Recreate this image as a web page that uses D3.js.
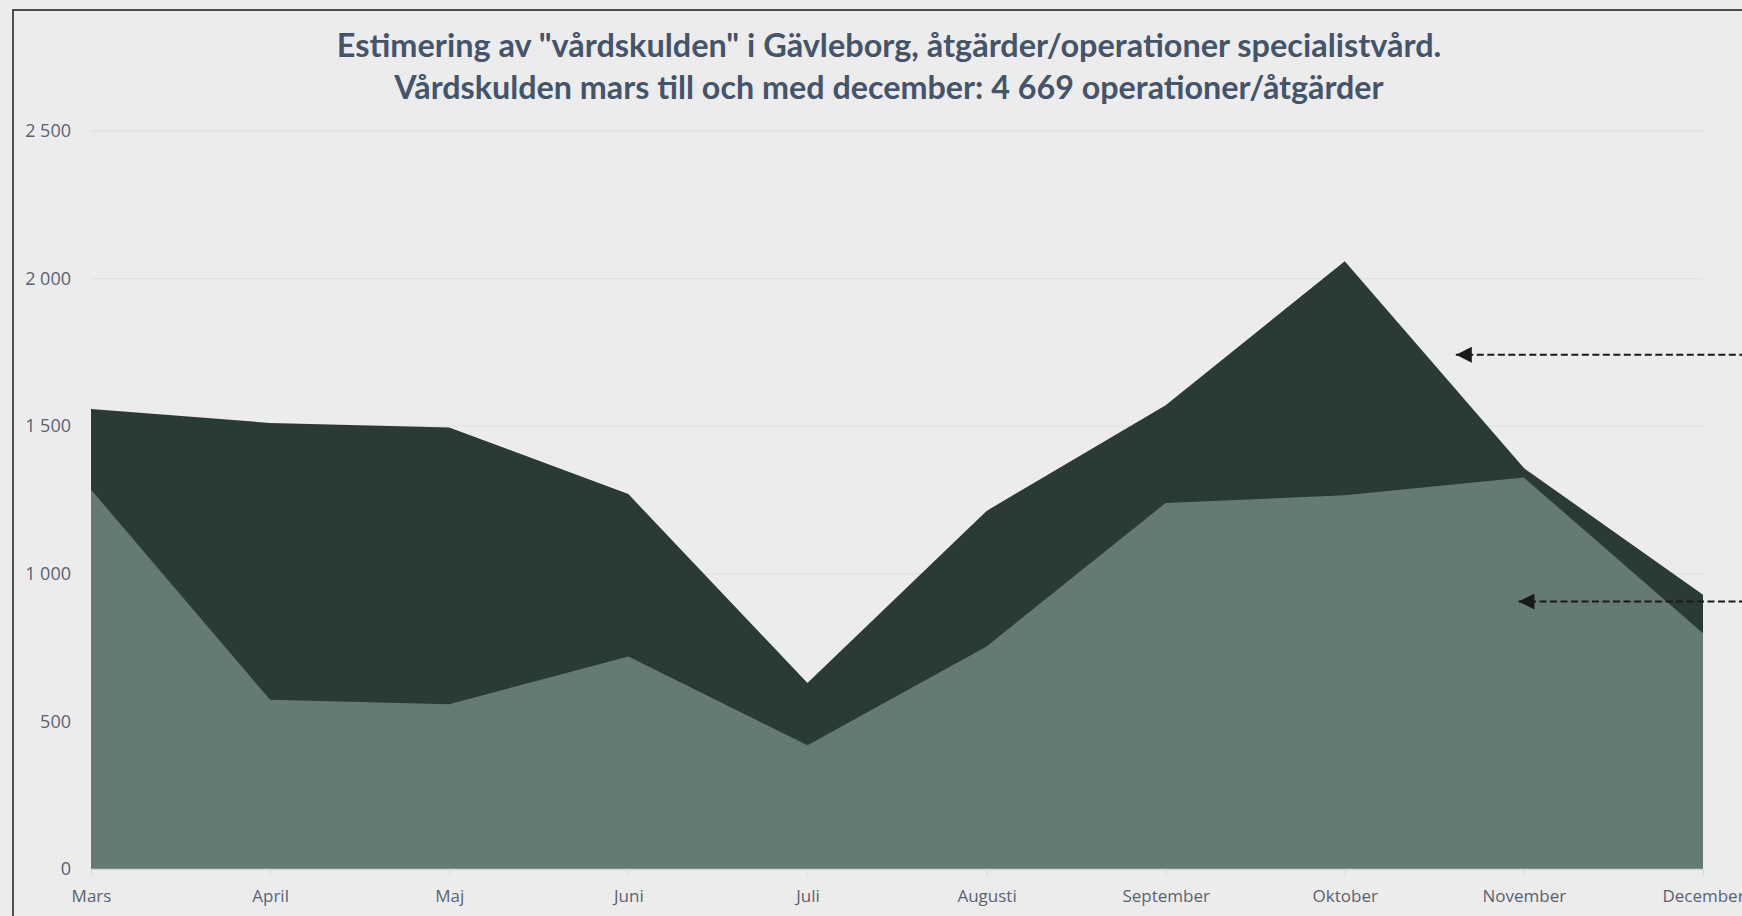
<!DOCTYPE html>
<html>
<head>
<meta charset="utf-8">
<script src="https://cdn.jsdelivr.net/npm/d3@7"></script>
<style>
    html, body { margin: 0; padding: 0; background: #ececec; overflow: hidden; }
    svg { display: block; }
</style>
</head>
<body>
<div id="chart"></div>
<script>
// months on the x axis
let months = ['Mars', 'April', 'Maj', 'Juni', 'Juli', 'Augusti', 'September', 'Oktober', 'November', 'December'];
// previous level (dark area) and current level (light area)
let expected = [1558, 1511, 1496, 1270, 630, 1213, 1571, 2059, 1358, 929];
let performed = [1285, 573, 558, 720, 419, 754, 1240, 1266, 1326, 799];
let yTicks = [0, 500, 1000, 1500, 2000, 2500];
let titleLines = [
    'Estimering av "vårdskulden" i Gävleborg, åtgärder/operationer specialistvård.',
    'Vårdskulden mars till och med december: 4 669 operationer/åtgärder'
];
// arrow annotations pointing in from the (cut off) legend on the right: [month index, value]
let arrowTargets = [[7.62, 1742], [7.97, 906]];

let width = 1742,
    height = 916;
let plot = { left: 91, right: 1703, top: 131, bottom: 869 };

let svg = d3.select('#chart')
    .append('svg')
    .attr('width', width)
    .attr('height', height);

// chart frame (runs off the page right and bottom)
svg.append('rect')
    .attr('x', 13)
    .attr('y', 10)
    .attr('width', width)
    .attr('height', height)
    .attr('fill', '#ececec')
    .attr('stroke', '#1a1a1a')
    .attr('stroke-width', 1.5);

let x = d3.scalePoint()
    .domain(months)
    .range([plot.left, plot.right]);

let xi = d3.scaleLinear()
    .domain([0, months.length - 1])
    .range([plot.left, plot.right]);

let y = d3.scaleLinear()
    .domain([0, 2500])
    .range([plot.bottom, plot.top]);

// gridlines
svg.append('g')
    .selectAll('line')
    .data(yTicks.slice(1))
    .enter()
    .append('line')
    .attr('x1', plot.left)
    .attr('x2', plot.right)
    .attr('y1', d => y(d))
    .attr('y2', d => y(d))
    .attr('stroke', '#dde3ea')
    .attr('stroke-width', 1.3);

let area = function(values) {
    return d3.area()
        .x((d, i) => x(months[i]))
        .y0(y(0))
        .y1(d => y(d))(values);
};

svg.append('path')
    .attr('d', area(expected))
    .attr('fill', '#2a3b35');

svg.append('path')
    .attr('d', area(performed))
    .attr('fill', '#657a70');

// x axis
let xAxis = svg.append('g')
    .attr('transform', 'translate(0,' + plot.bottom + ')')
    .call(d3.axisBottom(x).tickSize(6).tickPadding(15));
xAxis.select('.domain').attr('stroke', '#d4d8dc').attr('stroke-width', 1.3);
xAxis.selectAll('.tick line').attr('stroke', '#d4d8dc');
xAxis.selectAll('.tick text')
    .attr('fill', '#5a6272')
    .style('font-family', '"Open Sans", sans-serif')
    .style('font-size', '17px');

// y axis labels
let yAxis = svg.append('g')
    .attr('transform', 'translate(' + (plot.left - 20) + ',0)')
    .call(d3.axisLeft(y).tickValues(yTicks).tickSize(0).tickPadding(0)
        .tickFormat(d => d3.format(',')(d).replace(',', ' ')));
yAxis.select('.domain').remove();
yAxis.selectAll('.tick text')
    .attr('fill', '#5a6272')
    .style('font-family', '"Open Sans", sans-serif')
    .style('font-size', '18px');

// title, scaled to the width it has in the original
let titleWidths = [1105, 990];
let titleBase = [57, 99];
titleLines.forEach(function(line, i) {
    let t = svg.append('text')
        .attr('x', 889)
        .attr('y', titleBase[i])
        .attr('text-anchor', 'middle')
        .attr('fill', '#44546a')
        .style('font-family', 'Lato, sans-serif')
        .style('font-weight', 'bold')
        .style('font-size', '30px')
        .text(line);
    let w = t.node().getComputedTextLength();
    t.style('font-size', (30 * titleWidths[i] / w) + 'px');
});

// dashed arrows
let defs = svg.append('defs');
defs.append('marker')
    .attr('id', 'arrowhead')
    .attr('viewBox', '0 0 10 10')
    .attr('refX', 0)
    .attr('refY', 5)
    .attr('markerWidth', 8)
    .attr('markerHeight', 8)
    .attr('markerUnits', 'strokeWidth')
    .attr('orient', 'auto')
    .append('path')
    .attr('d', 'M10,0L0,5L10,10Z')
    .attr('fill', '#1a1a1a');

svg.append('g')
    .selectAll('line')
    .data(arrowTargets)
    .enter()
    .append('line')
    .attr('x1', d => xi(d[0]))
    .attr('y1', d => y(d[1]))
    .attr('x2', width + 10)
    .attr('y2', d => y(d[1]))
    .attr('stroke', '#1a1a1a')
    .attr('stroke-width', 2)
    .attr('stroke-dasharray', '7,3.5')
    .attr('marker-start', 'url(#arrowhead)');
</script>
</body>
</html>
